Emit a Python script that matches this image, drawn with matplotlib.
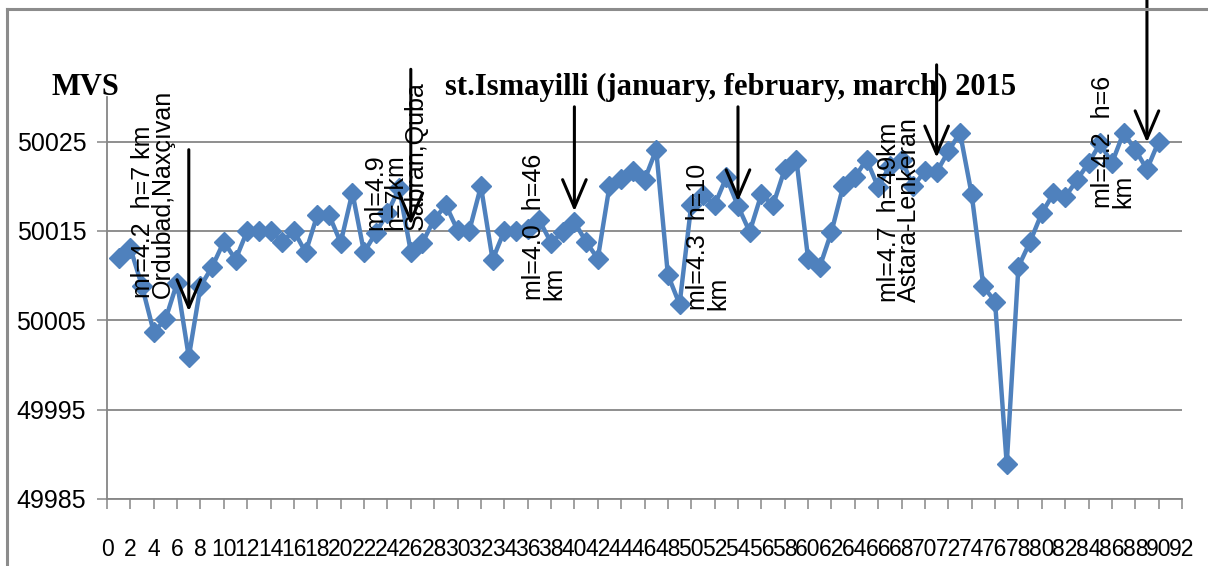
import matplotlib.pyplot as plt
from matplotlib import font_manager
from matplotlib.lines import Line2D
import numpy as np

# day index and MVS readings, st.Ismayilli Jan-Mar 2015
days = np.arange(1, 91)
mvs = [50012.0, 50013.1, 50008.8, 50003.7, 50005.1, 50009.2, 50000.9, 50008.8, 50011.0, 50013.8,
       50011.8, 50015.0, 50015.0, 50015.0, 50013.8, 50015.0, 50012.6, 50016.8, 50016.8, 50013.7,
       50019.3, 50012.6, 50014.8, 50017.0, 50019.8, 50012.7, 50013.7, 50016.3, 50017.9, 50015.1,
       50015.0, 50020.0, 50011.8, 50015.0, 50015.0, 50015.2, 50016.2, 50013.7, 50014.9, 50016.0,
       50013.8, 50011.9, 50020.0, 50020.8, 50021.7, 50020.7, 50024.1, 50010.1, 50006.8, 50017.9,
       50019.0, 50017.9, 50021.0, 50017.8, 50014.9, 50019.1, 50017.9, 50021.9, 50023.0, 50011.9,
       50011.0, 50014.9, 50020.0, 50021.0, 50023.0, 50019.9, 50022.3, 50023.0, 50020.0, 50021.7,
       50021.6, 50023.9, 50026.0, 50019.1, 50008.8, 50007.1, 49988.9, 50011.0, 50013.8, 50017.0,
       50019.2, 50018.8, 50020.7, 50022.6, 50024.8, 50022.6, 50026.0, 50024.1, 50021.9, 50025.0]

xticks = np.arange(0, 93, 2)
yticks = [49985, 49995, 50005, 50015, 50025]

# earthquake notes: (x, y bottom, text)
notes_x = [3.95, 24.7, 37.4, 51.45, 67.8, 86.1]
notes_y = [50007.5, 50015.1, 50007.3, 50006.2, 50007.1, 50017.6]
notes_txt = ["ml=4.2  h=7 km\nOrdubad,Naxçıvan",
             "ml=4.9\nh=7km\nSabran,Quba",
             "ml=4.0  h=46\nkm",
             "ml=4.3  h=10\nkm",
             "ml=4.7  h=49km\nAstara-Lenkeran",
             "ml=4.2  h=6\nkm"]

# arrows: x, start y, tip y
arrow_x = [7, 26, 40, 54, 71, 89]
arrow_top = [50024.1, 50033.1, 50028.9, 50028.9, 50033.6, 50040.9]
arrow_tip = [50006.0, 50015.7, 50017.2, 50018.3, 50023.2, 50024.9]

names = {f.name for f in font_manager.fontManager.ttflist}
tick_font = "Liberation Sans Narrow" if "Liberation Sans Narrow" in names else "Liberation Sans"

W, H = 1208, 566
fig = plt.figure(figsize=(W / 100, H / 100), dpi=100)
ax = fig.add_axes([107 / W, 1 - 499 / H, (1182 - 107) / W, (499 - 97) / H])

grey = "#868686"
ax.plot(days, mvs, color="#4F81BD", lw=3.2, marker="D", markersize=10.5,
        markeredgecolor="#4F81BD", zorder=3)

ax.set_xlim(0, 92)
ax.set_ylim(49985, 50030)
ax.set_xticks(xticks)
ax.set_xticklabels([str(t) for t in xticks])
ax.set_yticks(yticks)
ax.set_yticklabels([str(t) for t in yticks])
ax.yaxis.grid(True, color=grey, lw=1.3)
ax.set_axisbelow(True)

for s in ["top", "right"]:
    ax.spines[s].set_visible(False)
for s in ["left", "bottom"]:
    ax.spines[s].set_color(grey)
    ax.spines[s].set_linewidth(1.3)

ax.tick_params(axis="both", direction="out", length=7, width=1.1, color=grey)
ax.tick_params(axis="x", pad=21)
ax.tick_params(axis="y", pad=8)
for lab in ax.get_xticklabels():
    lab.set_fontfamily(tick_font)
    lab.set_fontsize(16.5)
for lab in ax.get_yticklabels():
    lab.set_fontfamily(tick_font)
    lab.set_fontsize(18)

for x, y, t in zip(notes_x, notes_y, notes_txt):
    ax.text(x, y, t, rotation=90, ha="center", va="bottom", multialignment="left",
            fontsize=18, family="Liberation Sans", linespacing=0.8, zorder=4)

for x, y0, y1 in zip(arrow_x, arrow_top, arrow_tip):
    ax.annotate("", xy=(x, y1), xytext=(x, y0), annotation_clip=False,
                arrowprops=dict(arrowstyle="->,head_length=2.0,head_width=0.85",
                                color="black", lw=2.2, shrinkA=0, shrinkB=0,
                                mutation_scale=10), zorder=5)

fig.text(731 / W, 1 - 95 / H, "st.Ismayilli (january, february, march) 2015",
         ha="center", va="baseline", family="Liberation Serif", weight="bold", fontsize=22)
fig.text(52 / W, 1 - 95 / H, "MVS", ha="left", va="baseline",
         family="Liberation Serif", weight="bold", fontsize=22)

# chart area border (left and top edges visible)
fig.add_artist(Line2D([7 / W, 7 / W], [0, 1 - 9 / H], color="#8c8c8c", lw=2.2))
fig.add_artist(Line2D([7 / W, 1], [1 - 9 / H, 1 - 9 / H], color="#8c8c8c", lw=2.2))

fig.savefig("out.png", dpi=100)
